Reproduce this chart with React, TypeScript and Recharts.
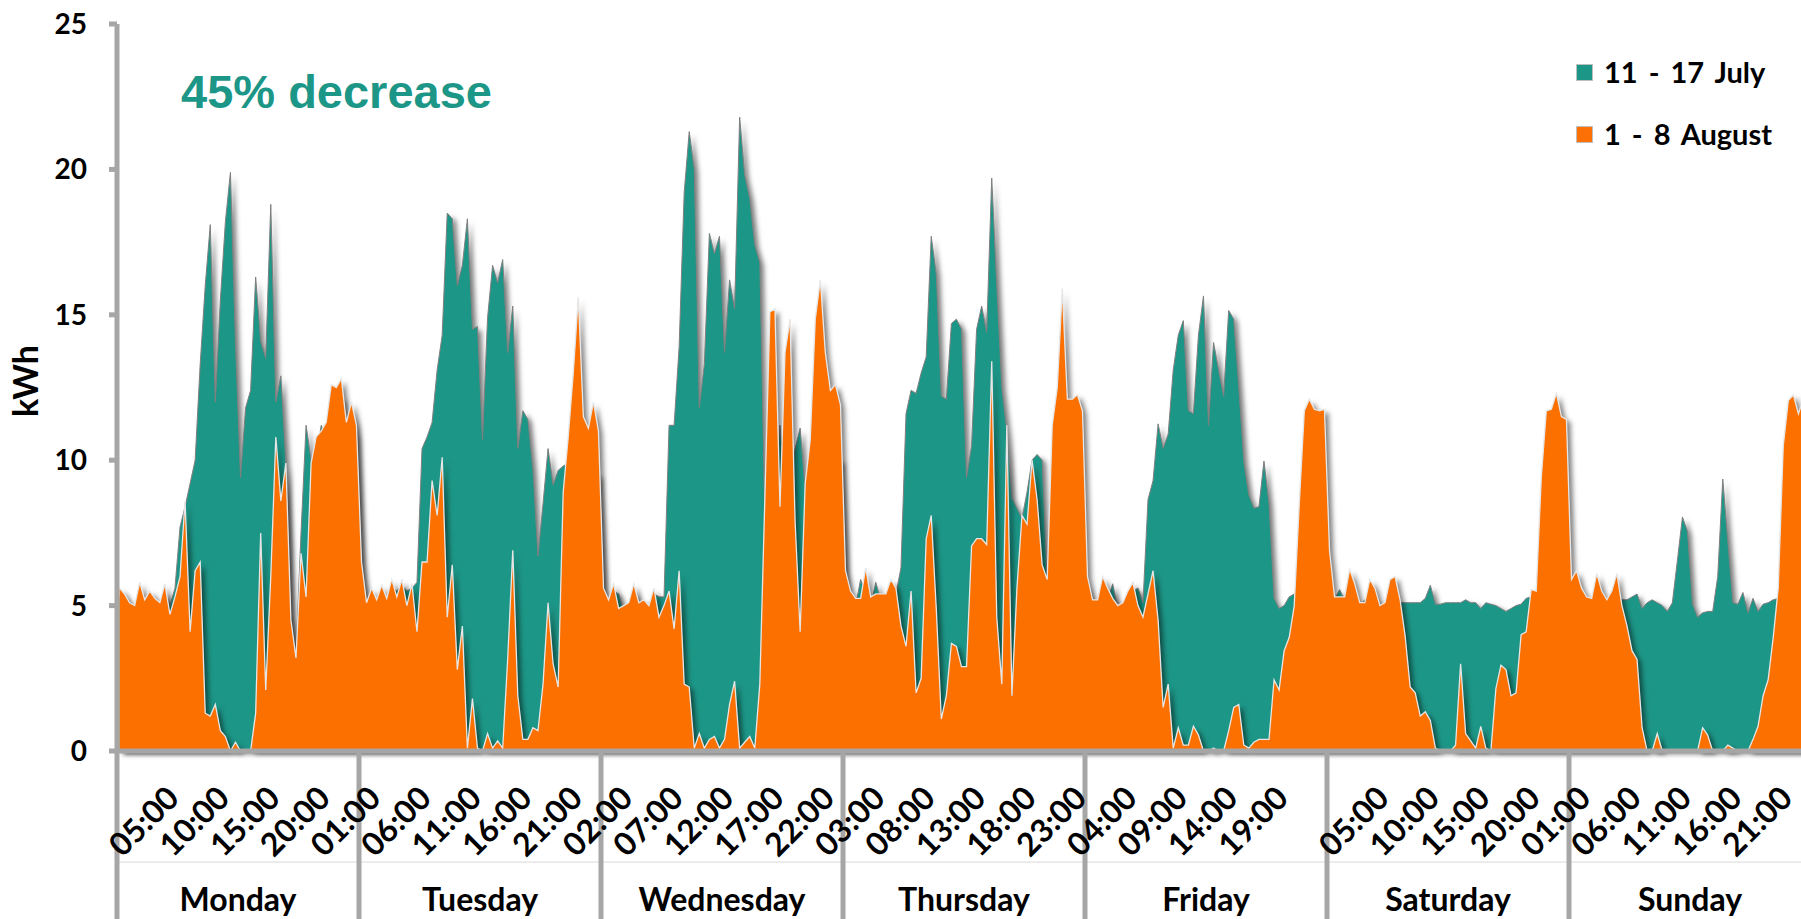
import React from 'react';
import { AreaChart, Area, XAxis, YAxis, ReferenceLine, Legend } from 'recharts';

// ---------- labels ----------
const dayNames = ['Monday', 'Tuesday', 'Wednesday', 'Thursday', 'Friday', 'Saturday', 'Sunday'];
const seriesNames = ['11 - 17 July', '1 - 8 August'];
const annotation = '45% decrease';
const yAxisLabel = 'kWh';
const yTicks = [0, 5, 10, 15, 20, 25];
// half-hour slot index of each time label (00:00 labels are blank in the original)
const timeTicks = [10, 20, 30, 40, 50, 60, 70, 80, 90, 100, 110, 120, 130, 140, 150, 160, 170, 180, 190, 200, 210, 220, 230, 250, 260, 270, 280, 290, 300, 310, 320, 330];
const timeLabels = ['05:00', '10:00', '15:00', '20:00', '01:00', '06:00', '11:00', '16:00', '21:00', '02:00', '07:00', '12:00', '17:00', '22:00', '03:00', '08:00', '13:00', '18:00', '23:00', '04:00', '09:00', '14:00', '19:00', '05:00', '10:00', '15:00', '20:00', '01:00', '06:00', '11:00', '16:00', '21:00'];
const daySeparators = [-0.5, 47.5, 95.5, 143.5, 191.5, 239.5, 287.5];
const dayCenters = [23.5, 71.5, 119.5, 167.5, 215.5, 263.5, 311.5];

// ---------- 11 - 17 July (half-hourly kWh) ----------
const julyMon = [5.3, 5.2, 4.9, 4.9, 5.5, 5.0, 5.3, 5.1, 4.9, 5.5, 5.0, 5.6, 7.7, 8.4, 9.2, 10.0, 13.3, 16.0, 18.1, 12.0, 15.5, 18.2, 19.9, 14.0, 9.4, 11.8, 12.4, 16.3, 14.1, 13.5, 18.8, 12.0, 12.9, 9.9, 4.8, 3.3, 7.5, 11.2, 10.0, 10.0, 11.2, 10.8, 12.0, 12.0, 12.2, 10.8, 11.5, 10.8];
const julyTue = [6.0, 4.9, 5.3, 5.0, 5.4, 5.1, 5.6, 5.5, 5.7, 5.5, 5.6, 5.8, 10.4, 10.8, 11.3, 13.1, 14.3, 18.5, 18.3, 16.0, 16.7, 18.3, 14.5, 14.6, 10.7, 14.9, 16.7, 16.1, 16.9, 13.7, 15.3, 10.4, 11.7, 11.4, 9.7, 6.7, 8.5, 10.4, 9.15, 9.65, 9.8, 9.9, 9.5, 9.5, 9.5, 9.5, 9.5, 9.5];
const julyWed = [5.3, 5.0, 5.5, 5.4, 4.8, 4.9, 5.5, 4.9, 5.0, 4.8, 5.4, 5.3, 5.3, 11.2, 11.2, 13.9, 19.2, 21.3, 20.0, 11.8, 13.3, 17.8, 17.1, 17.7, 13.7, 16.2, 15.2, 21.8, 19.8, 19.0, 17.4, 16.8, 8.0, 9.0, 9.0, 11.2, 9.0, 9.0, 10.4, 11.1, 9.0, 10.0, 10.0, 10.0, 10.0, 10.0, 10.0, 10.0];
const julyThu = [5.5, 5.2, 5.0, 5.9, 5.4, 5.0, 5.8, 5.2, 5.1, 5.5, 5.4, 6.3, 11.6, 12.4, 12.3, 13.0, 13.55, 17.7, 16.4, 12.2, 12.1, 14.7, 14.85, 14.5, 9.4, 10.5, 14.5, 15.3, 14.4, 19.7, 16.0, 12.5, 11.0, 8.7, 8.35, 8.0, 8.9, 10.0, 10.2, 10.0, 5.8, 5.8, 5.8, 5.8, 5.8, 5.8, 5.8, 5.8];
const julyFri = [5.5, 5.0, 5.0, 5.5, 5.2, 5.75, 4.9, 5.0, 5.3, 5.5, 5.6, 5.1, 8.65, 9.3, 11.25, 10.4, 10.9, 13.1, 14.3, 14.8, 11.7, 11.6, 14.3, 15.65, 11.2, 14.05, 13.1, 12.2, 15.15, 14.85, 12.5, 9.95, 8.8, 8.35, 8.4, 9.97, 8.5, 5.25, 4.9, 5.0, 5.3, 5.4, 5.3, 5.3, 5.3, 5.3, 5.3, 5.3];
const julySat = [5.3, 5.2, 5.55, 5.2, 5.2, 5.2, 5.0, 5.2, 5.2, 5.2, 4.9, 5.0, 5.2, 5.2, 5.1, 5.1, 5.1, 5.1, 5.1, 5.25, 5.7, 5.05, 5.05, 5.1, 5.1, 5.1, 5.1, 5.2, 5.1, 5.1, 4.9, 5.1, 5.05, 5.0, 4.9, 4.8, 4.9, 5.0, 5.05, 5.25, 5.3, 5.3, 5.3, 5.3, 5.3, 5.3, 5.3, 5.3];
const julySun = [5.3, 5.3, 5.2, 5.0, 5.0, 5.2, 5.1, 5.0, 5.1, 5.2, 5.2, 5.2, 5.3, 5.4, 4.9, 5.1, 5.2, 5.1, 5.0, 4.8, 5.1, 6.55, 8.05, 7.55, 5.05, 4.6, 4.75, 4.8, 4.8, 6.0, 9.35, 7.2, 5.1, 5.05, 5.45, 4.75, 5.25, 4.8, 5.05, 5.1, 5.2, 5.25, 5.3, 5.3, 5.3, 5.3, 5.3, 5.3];

// ---------- 1 - 8 August (half-hourly kWh) ----------
const augMon = [5.6, 5.4, 5.1, 5.0, 5.8, 5.2, 5.5, 5.25, 5.1, 5.75, 4.7, 5.3, 6.0, 8.6, 4.1, 6.2, 6.5, 1.3, 1.2, 1.6, 0.7, 0.5, 0, 0.3, 0, 0, 0, 1.3, 7.5, 2.1, 6.0, 10.8, 8.6, 9.9, 4.5, 3.2, 6.8, 5.3, 9.9, 10.8, 11.0, 11.3, 12.6, 12.5, 12.8, 11.3, 12.0, 11.2];
const augTue = [6.5, 5.1, 5.6, 5.2, 5.7, 5.25, 5.9, 5.3, 5.9, 5.0, 5.75, 4.1, 6.5, 6.5, 9.3, 8.1, 10.1, 4.6, 6.4, 2.8, 4.3, 0.1, 1.8, 0.1, 0, 0.6, 0.1, 0.35, 0.1, 3.2, 6.9, 1.9, 0.4, 0.4, 0.8, 0.7, 2.3, 5.1, 3.0, 2.2, 8.9, 10.8, 13.0, 15.6, 11.5, 11.1, 12.0, 11.0];
const augWed = [5.6, 5.2, 5.75, 4.9, 5.0, 5.1, 5.75, 5.1, 5.2, 5.0, 5.6, 4.6, 5.0, 5.5, 4.2, 6.2, 2.3, 2.2, 0.1, 0.6, 0.1, 0.4, 0.5, 0.1, 0.4, 1.6, 2.4, 0.1, 0.3, 0.5, 0.1, 2.3, 8.7, 15.1, 15.2, 8.4, 13.7, 14.85, 7.9, 4.1, 9.2, 10.7, 14.85, 16.2, 13.7, 12.4, 12.6, 11.9];
const augThu = [6.2, 5.5, 5.25, 5.25, 6.3, 5.3, 5.4, 5.4, 5.4, 5.9, 5.6, 4.3, 3.6, 5.5, 2.0, 2.5, 7.3, 8.1, 4.9, 1.1, 1.9, 3.7, 3.6, 2.9, 2.9, 7.05, 7.3, 7.3, 7.1, 13.4, 4.6, 2.3, 11.2, 1.9, 5.6, 8.1, 7.8, 10.0, 8.65, 6.4, 5.9, 11.2, 12.5, 15.9, 12.1, 12.1, 12.25, 11.7];
const augFri = [6.0, 5.2, 5.2, 6.0, 5.6, 5.25, 5.0, 5.1, 5.5, 5.8, 5.0, 4.6, 5.4, 6.2, 4.5, 1.5, 2.3, 0.1, 0.8, 0.2, 0.2, 0.85, 0.55, 0, 0, 0.1, 0, 0, 0.7, 1.5, 1.6, 0.2, 0.1, 0.3, 0.4, 0.4, 0.4, 2.45, 2.1, 3.45, 3.9, 5.0, 8.5, 11.7, 12.1, 11.75, 11.7, 11.75];
const augSat = [6.9, 5.3, 5.3, 5.3, 6.25, 5.75, 5.1, 5.1, 5.9, 5.6, 5.0, 5.1, 5.9, 6.0, 5.2, 3.95, 2.2, 2.0, 1.2, 1.35, 1.05, 0.1, 0, 0, 0, 0.2, 3.0, 0.6, 0.35, 0.1, 0.85, 0.1, 0, 2.15, 2.95, 2.8, 1.9, 2.0, 4.0, 4.1, 5.55, 5.5, 9.4, 11.7, 11.75, 12.3, 11.5, 11.4];
const augSun = [5.9, 6.2, 5.6, 5.3, 5.25, 6.1, 5.5, 5.2, 5.5, 6.1, 5.0, 4.3, 3.45, 3.15, 0.8, 0, 0, 0.6, 0, 0, 0, 0, 0, 0, 0, 0, 0.8, 0.55, 0, 0, 0, 0.2, 0.1, 0, 0, 0, 0.4, 0.85, 1.9, 2.45, 3.9, 5.6, 10.5, 12.05, 12.25, 11.6, 12.1, 11.7];

const july = [...julyMon, ...julyTue, ...julyWed, ...julyThu, ...julyFri, ...julySat, ...julySun];
const august = [...augMon, ...augTue, ...augWed, ...augThu, ...augFri, ...augSat, ...augSun];
const rows = july.map((v, i) => ({ t: i, july: v, august: august[i] }));

// ---------- styling ----------
const TEAL = '#1C9687';
const ORANGE = '#FC7005';
const AXIS_GRAY = '#A6A6A6';
const FONT = 'Lato, "Open Sans", sans-serif';
const allXTicks = [...timeTicks, ...dayCenters].sort((a, b) => a - b);

function XTick(props: any) {
  const { x, y, payload } = props;
  const v = payload.value;
  const d = dayCenters.indexOf(v);
  if (d >= 0) {
    return (
      <text x={x} y={y + 160} textAnchor="middle" fontFamily={FONT} fontWeight={700} fontSize={32} fill="#000">
        {dayNames[d]}
      </text>
    );
  }
  const k = timeTicks.indexOf(v);
  if (k < 0) return null;
  const ax = x + 11;
  const ay = y + 49;
  return (
    <text x={ax} y={ay} textAnchor="end" transform={`rotate(-45 ${ax} ${ay})`} fontFamily={FONT} fontWeight={700} fontSize={32} fill="#000">
      {timeLabels[k]}
    </text>
  );
}

function YLabel() {
  const cx = 38;
  const cy = 381;
  return (
    <text x={cx} y={cy} textAnchor="middle" transform={`rotate(-90 ${cx} ${cy})`} fontFamily={FONT} fontWeight={700} fontSize={34} fill="#000">
      {yAxisLabel}
    </text>
  );
}

function LegendBox() {
  const colors = [TEAL, ORANGE];
  return (
    <svg width={233} height={130}>
      {seriesNames.map((n, i) => (
        <g key={n}>
          <rect x={8.5} y={24.5 + i * 62} width={16} height={16} fill={colors[i]} stroke="#BFBFBF" strokeWidth={1} />
          <text x={36} y={43 + i * 62} fontFamily={FONT} fontWeight={700} fontSize={29} fill="#000" style={{ whiteSpace: 'pre', wordSpacing: 4 }}>
            {n}
          </text>
        </g>
      ))}
    </svg>
  );
}

export default function App() {
  return (
    <div style={{ position: 'absolute', left: 0, top: 0, width: 1801, height: 919, overflow: 'hidden', background: '#fff' }}>
      <style>{`.recharts-area-area { filter: url(#areaShadow); }`}</style>
      <svg width={0} height={0} style={{ position: 'absolute' }}>
        <defs>
          <filter id="areaShadow" x="-5%" y="-10%" width="115%" height="125%">
            <feDropShadow dx={4} dy={3} stdDeviation={2.5} floodColor="#000" floodOpacity={0.5} />
          </filter>
        </defs>
      </svg>
      <AreaChart width={1811} height={919} data={rows} margin={{ top: 24, right: 0, bottom: 0, left: 0 }}>
        <XAxis
          dataKey="t"
          type="number"
          domain={[-0.5, 335.5]}
          ticks={allXTicks}
          interval={0}
          allowDataOverflow
          height={168}
          tickLine={false}
          tickSize={0}
          tickMargin={0}
          axisLine={{ stroke: AXIS_GRAY, strokeWidth: 5 }}
          tick={<XTick />}
        />
        <YAxis
          type="number"
          domain={[0, 25]}
          ticks={yTicks}
          interval={0}
          width={117}
          tickSize={8}
          tickMargin={22}
          axisLine={{ stroke: AXIS_GRAY, strokeWidth: 5 }}
          tickLine={{ stroke: AXIS_GRAY, strokeWidth: 5 }}
          tick={{ fontFamily: FONT, fontWeight: 700, fontSize: 28, fill: '#000' }}
          label={<YLabel />}
        />
        <Area
          type="linear"
          dataKey="july"
          name={seriesNames[0]}
          stroke="#7F7F7F"
          strokeWidth={1}
          fill={TEAL}
          fillOpacity={1}
          dot={false}
          activeDot={false}
          isAnimationActive={false}
        />
        <Area
          type="linear"
          dataKey="august"
          name={seriesNames[1]}
          stroke="#E6E6E6"
          strokeWidth={1.3}
          fill={ORANGE}
          fillOpacity={1}
          dot={false}
          activeDot={false}
          isAnimationActive={false}
        />
        <ReferenceLine segment={[{ x: -0.5, y: -3.82 }, { x: 335.5, y: -3.82 }]} stroke="#D9D9D9" strokeWidth={1} ifOverflow="visible" />
        {daySeparators.map((s) => (
          <ReferenceLine key={s} segment={[{ x: s, y: 0 }, { x: s, y: -6 }]} stroke={AXIS_GRAY} strokeWidth={5} ifOverflow="visible" />
        ))}
        <Legend
          layout="vertical"
          align="center"
          verticalAlign="middle"
          wrapperStyle={{ top: 40, left: 1568, width: 233, height: 130 }}
          content={() => <LegendBox />}
        />
      </AreaChart>
      <svg width={1801} height={919} style={{ position: 'absolute', left: 0, top: 0, pointerEvents: 'none' }}>
        <text x={181} y={108} fontFamily='"Liberation Sans", Arial, sans-serif' fontWeight={700} fontSize={47} fill={TEAL}>
          {annotation}
        </text>
      </svg>
    </div>
  );
}
